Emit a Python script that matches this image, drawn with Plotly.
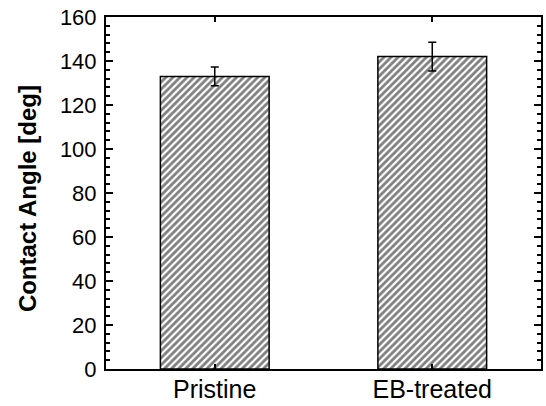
import plotly.graph_objects as go

categories = ["Pristine", "EB-treated"]
contact_angle = [133, 142]
error = [4.3, 6.5]
y_ticks = [0, 20, 40, 60, 80, 100, 120, 140, 160]
y_title = "Contact Angle [deg]"

fig = go.Figure()
fig.add_trace(go.Bar(
    x=categories,
    y=contact_angle,
    width=0.5,
    marker=dict(
        color="white",
        line=dict(color="black", width=1.5),
        pattern=dict(shape="/", size=5, solidity=0.55, fgcolor="black", bgcolor="white"),
    ),
    error_y=dict(type="data", array=error, visible=True, color="black", thickness=1.5, width=4),
))

fig.update_layout(
    width=546, height=406,
    margin=dict(l=106, r=5, t=17, b=37, autoexpand=False),
    paper_bgcolor="white", plot_bgcolor="white",
    showlegend=False,
    font=dict(family="Liberation Sans, Arial, sans-serif", color="black"),
)
fig.update_xaxes(
    range=[-0.5, 1.5], automargin=False,
    showline=True, linecolor="black", linewidth=2, mirror="ticks",
    ticks="inside", ticklen=5, tickwidth=1.5, tickcolor="black",
    tickfont=dict(size=25), ticklabelstandoff=-3,
    showgrid=False,
)
fig.update_yaxes(
    range=[0, 160], automargin=False,
    tickvals=y_ticks,
    showline=True, linecolor="black", linewidth=2, mirror="ticks",
    ticks="inside", ticklen=7, tickwidth=1.5, tickcolor="black",
    minor=dict(dtick=4, ticks="inside", ticklen=4, tickwidth=1.5, tickcolor="black"),
    tickfont=dict(size=22), ticklabelstandoff=3,
    showgrid=False, zeroline=False,
)
fig.add_annotation(
    text="<b>" + y_title + "</b>", textangle=-90,
    xref="paper", yref="paper", x=-0.179, y=0.483,
    xanchor="center", yanchor="middle", showarrow=False,
    font=dict(size=24),
)

fig.write_html("out.html")
